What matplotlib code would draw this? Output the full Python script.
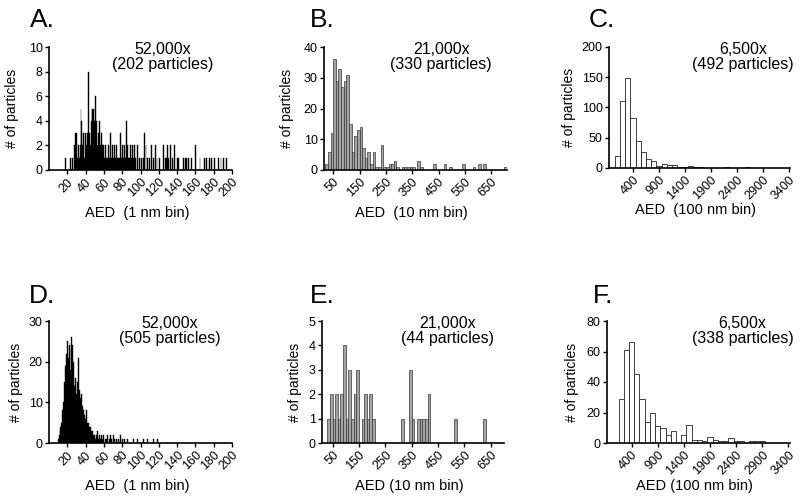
import numpy as np
import matplotlib
matplotlib.use("Agg")
import matplotlib.pyplot as plt

plt.rcParams['font.family'] = ['Liberation Sans', 'DejaVu Sans']

# A: 52,000x, 1 nm bins
a_x = [18, 23, 26, 28, 29, 30, 31, 32, 33, 34, 35, 36, 37, 38, 39, 40, 41, 42, 43, 44,
       45, 46, 47, 48, 49, 50, 51, 52, 53, 54, 55, 56, 57, 58, 59, 60, 61, 62, 63, 64,
       65, 66, 67, 68, 69, 70, 71, 72, 73, 74, 75, 76, 77, 78, 79, 80, 81, 82, 83, 84,
       85, 86, 87, 88, 89, 90, 91, 92, 93, 95, 97, 99, 101, 103, 104, 106, 108, 110, 112, 114,
       116, 118, 121, 125, 127, 128, 130, 131, 133, 135, 137, 140, 142, 147, 149, 150, 152, 156, 160, 165,
       170, 172, 175, 178, 181, 185, 188, 191, 194]
a_n = [1, 1, 1, 2, 3, 3, 1, 2, 1, 2, 5, 4, 2, 3, 1, 3, 2, 3, 8, 3,
       2, 4, 5, 5, 5, 4, 6, 4, 2, 3, 4, 2, 3, 2, 1, 2, 1, 2, 1, 1,
       2, 1, 3, 1, 2, 1, 1, 2, 1, 2, 1, 1, 1, 3, 1, 2, 1, 1, 2, 1,
       4, 2, 1, 1, 2, 1, 2, 1, 2, 1, 2, 1, 1, 1, 3, 2, 1, 1, 2, 1,
       2, 1, 1, 2, 1, 1, 2, 1, 2, 1, 2, 1, 1, 1, 1, 1, 1, 1, 2, 1,
       1, 1, 1, 1, 1, 1, 1, 1, 1]

# B: 21,000x, 10 nm bins
b_x = [25, 35, 45, 55, 65, 75, 85, 95, 105, 115, 125, 135, 145, 155, 165, 175, 185, 195,
       205, 215, 225, 235, 245, 255, 265, 275, 285, 295, 315, 325, 335, 345, 355, 375, 385,
       435, 475, 495, 545, 585, 605, 625, 705]
b_n = [2, 6, 12, 36, 29, 33, 27, 29, 31, 15, 6, 11, 13, 14, 7, 4, 6, 2,
       6, 1, 1, 8, 1, 1, 2, 2, 3, 1, 1, 1, 1, 1, 1, 3, 1,
       2, 2, 1, 2, 1, 2, 2, 1]

# C: 6,500x, 100 nm bins
c_x = [100, 200, 300, 400, 500, 600, 700, 800, 900, 1000, 1100, 1200, 1300, 1400, 1500,
       1600, 1700, 2200, 2600]
c_n = [20, 110, 148, 83, 45, 26, 15, 11, 3, 6, 5, 5, 2, 2, 4, 1, 2, 1, 1]

# D: 52,000x, 1 nm bins
d_x = [10, 11, 12, 13, 14, 15, 16, 17, 18, 19, 20, 21, 22, 23, 24, 25, 26, 27, 28, 29,
       30, 31, 32, 33, 34, 35, 36, 37, 38, 39, 40, 41, 42, 43, 44, 45, 46, 47, 48, 49,
       50, 51, 52, 53, 54, 55, 56, 57, 58, 59, 60, 62, 63, 64, 66, 67, 68, 70, 72, 74,
       76, 78, 80, 83, 86, 92, 97, 103, 108, 114, 119]
d_n = [1, 2, 3, 4, 5, 8, 10, 15, 19, 22, 25, 21, 24, 18, 23, 26, 24, 20, 14, 16,
       12, 15, 21, 13, 11, 10, 12, 9, 8, 7, 6, 8, 5, 5, 4, 4, 3, 2, 3, 2,
       2, 1, 2, 3, 1, 2, 1, 2, 1, 1, 2, 1, 1, 2, 1, 2, 1, 2, 1, 1,
       1, 2, 1, 1, 1, 1, 1, 1, 1, 1, 1]

# E: 21,000x, 10 nm bins
e_x = [35, 45, 55, 65, 75, 85, 95, 105, 115, 125, 135, 145, 165, 175, 185, 195, 205,
       315, 345, 355, 375, 385, 395, 405, 415, 515, 625]
e_n = [1, 2, 1, 2, 1, 2, 4, 1, 3, 1, 2, 3, 1, 2, 1, 2, 1,
       1, 3, 1, 1, 1, 1, 1, 2, 1, 1]

# F: 6,500x, 100 nm bins
f_x = [200, 300, 400, 500, 600, 700, 800, 900, 1000, 1100, 1200, 1400, 1500, 1600, 1700,
       1800, 1900, 2000, 2100, 2200, 2300, 2400, 2500, 2700, 2800, 2900]
f_n = [29, 61, 66, 45, 29, 14, 20, 11, 10, 5, 8, 5, 12, 2, 2,
       1, 4, 2, 1, 1, 3, 1, 1, 1, 1, 1]

W, H = 800, 504
fig = plt.figure(figsize=(W / 100, H / 100), dpi=100)


def make_ax(l, r, t, b):
    return fig.add_axes([l / W, 1 - b / H, (r - l) / W, (b - t) / H])


def panel(ax, x, n, width, fc, ec, lw, xlim, xticks, ylim, yticks,
          letter, lpos, mag, npart, tx, xlab, ylx):
    ax.bar(x, n, width=width, color=fc, edgecolor=ec, linewidth=lw, align='center')
    ax.set_xlim(*xlim)
    ax.set_ylim(*ylim)
    ax.set_xticks(xticks)
    ax.set_yticks(yticks)
    for s in ['top', 'right']:
        ax.spines[s].set_visible(False)
    for s in ['left', 'bottom']:
        ax.spines[s].set_linewidth(1.2)
    ax.tick_params(direction='out', length=3, width=1.0, labelsize=9, pad=1.5)
    for lab in ax.get_xticklabels():
        lab.set_rotation(45)
        lab.set_ha('right')
        lab.set_rotation_mode('anchor')
    ax.set_xlabel(xlab, fontsize=10.5)
    ax.xaxis.set_label_coords(0.48, -0.35)
    ax.xaxis.label.set_va('center')
    ax.set_ylabel('# of particles', fontsize=10)
    ax.yaxis.set_label_coords(ylx, 0.5)
    ax.yaxis.label.set_va('center')
    ax.text(tx, 1.04, mag + '\n' + npart, transform=ax.transAxes, ha='center', va='top',
            fontsize=11.5, linespacing=1.0)
    fig.text(lpos[0] / W, 1 - lpos[1] / H, letter, fontsize=19, va='baseline', ha='left')


ax_a = make_ax(49, 232, 47, 170)
ax_b = make_ax(324, 507, 47, 170)
ax_c = make_ax(609, 790, 47, 168)
ax_d = make_ax(49, 232, 321, 443)
ax_e = make_ax(322, 504, 321, 443)
ax_f = make_ax(607, 790, 321, 443)

ticks_1nm = list(range(20, 201, 20))
ticks_10nm = list(range(50, 651, 100))
ticks_100nm = list(range(400, 3401, 500))

panel(ax_a, a_x, a_n, 1.0, 'black', 'black', 0.3, (0, 200), ticks_1nm, (0, 10), range(0, 11, 2),
      'A.', (30, 27), '52,000x', '(202 particles)', 0.62, 'AED  (1 nm bin)', -0.2)
panel(ax_b, b_x, b_n, 10, '#a3a3a3', '#3a3a3a', 0.5, (15, 710), ticks_10nm, (0, 40), range(0, 41, 10),
      'B.', (310, 27), '21,000x', '(330 particles)', 0.64, 'AED  (10 nm bin)', -0.2)
panel(ax_c, c_x, c_n, 100, 'white', '#222222', 0.6, (-60, 3420), ticks_100nm, (0, 200), range(0, 201, 50),
      'C.', (589, 27), '6,500x', '(492 particles)', 0.74, 'AED  (100 nm bin)', -0.22)
panel(ax_d, d_x, d_n, 1.0, 'black', 'black', 0.3, (0, 200), ticks_1nm, (0, 30), range(0, 31, 10),
      'D.', (29, 303), '52,000x', '(505 particles)', 0.66, 'AED  (1 nm bin)', -0.18)
panel(ax_e, e_x, e_n, 10, '#a3a3a3', '#3a3a3a', 0.5, (10, 700), ticks_10nm, (0, 5), range(0, 6),
      'E.', (310, 303), '21,000x', '(44 particles)', 0.69, 'AED (10 nm bin)', -0.15)
panel(ax_f, f_x, f_n, 100, 'white', '#222222', 0.6, (-70, 3430), ticks_100nm, (0, 80), range(0, 81, 20),
      'F.', (593, 303), '6,500x', '(338 particles)', 0.74, 'AED (100 nm bin)', -0.19)

fig.savefig('out.png', dpi=100, facecolor='white')
